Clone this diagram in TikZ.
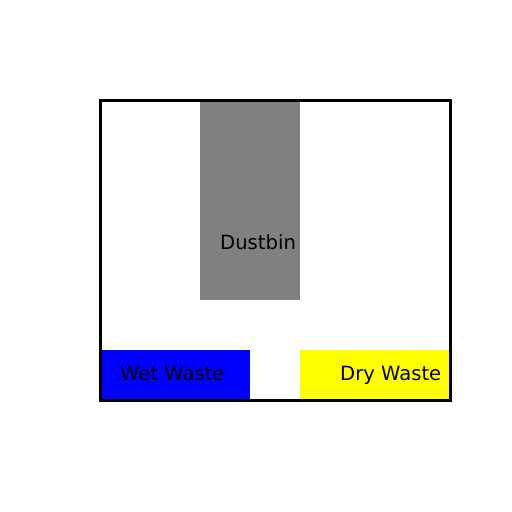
\documentclass[tikz,border=0pt]{standalone}
\usepackage{fontspec}
\setmainfont{DejaVu Sans}
\definecolor{binGray}{RGB}{128,128,128}
\definecolor{wetBlue}{RGB}{0,0,255}
\definecolor{dryYellow}{RGB}{255,255,0}
\begin{document}
\begin{tikzpicture}[x=1pt,y=-1pt,
  lbl/.style={anchor=base west,inner sep=0pt,font=\fontsize{19.6}{24}\selectfont}]
\useasboundingbox (0,0) rectangle (512,512);
\fill[binGray] (200,100) rectangle (300,300);
\fill[wetBlue] (100,350) rectangle (250,400);
\fill[dryYellow] (300,350) rectangle (450,400);
\node[lbl] (dustbin) at (220,249.5) {Dustbin};
\node[lbl] (wet) at (120,380) {Wet Waste};
\node[lbl] (dry) at (340,380) {Dry Waste};
\draw[line width=3pt] (100,100) rectangle (450,400);
\end{tikzpicture}
\end{document}
